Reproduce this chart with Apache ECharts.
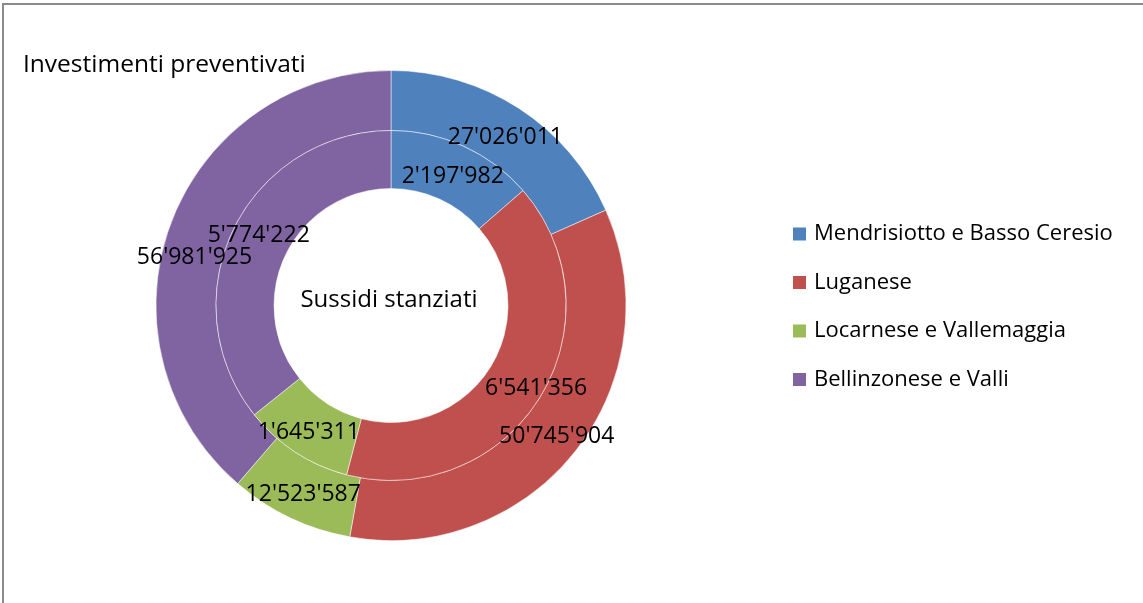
<!DOCTYPE html>
<html>
<head>
<meta charset="utf-8">
<script src="https://cdn.jsdelivr.net/npm/echarts@6/dist/echarts.min.js"></script>
<style>
  html, body { margin: 0; padding: 0; background: #ffffff; }
  .frame {
    position: absolute;
    left: 2px;
    top: 3px;
    width: 1141px;
    height: 600px;
    border-top: 2px solid #8a8a8a;
    border-left: 2px solid #8a8a8a;
  }
  #chart { position: absolute; left: 0; top: 0; width: 1143px; height: 603px; }
</style>
</head>
<body>
<div class="frame"></div>
<div id="chart"></div>
<script>
// regioni
const regions = ['Mendrisiotto e Basso Ceresio', 'Luganese', 'Locarnese e Vallemaggia', 'Bellinzonese e Valli'];
// anello esterno
const investimenti = [27026011, 50745904, 12523587, 56981925];
// anello interno
const sussidi = [2197982, 6541356, 1645311, 5774222];
const colors = ['#4f81bd', '#c0504d', '#9bbb59', '#8064a2'];

// piccoli spostamenti delle etichette (come in Excel), [dx, dy]
const shiftOuter = [[1, 6], [2, 3], [1.5, 1], [-1.5, 24]];
const shiftInner = [[0, 7], [18.5, 4.5], [-1, 2.5], [2, -5]];

const fmt = (v) => String(v).replace(/\B(?=(\d{3})+(?!\d))/g, "'");
const toData = (vals) => vals.map((v, i) => ({ name: regions[i], value: v }));

const labelStyle = {
  show: true,
  position: 'inside',
  color: '#000',
  fontFamily: 'Open Sans',
  fontSize: 23,
  formatter: (p) => fmt(p.value),
};

const chart = echarts.init(document.getElementById('chart'));
chart.setOption({
  animation: false,
  color: colors,
  title: {
    text: 'Investimenti preventivati',
    left: 18,
    top: 48,
    textStyle: { fontFamily: 'Open Sans', fontSize: 24.5, fontWeight: 'normal', color: '#000' },
  },
  graphic: [
    {
      type: 'text',
      x: 389,
      y: 300,
      style: {
        text: 'Sussidi stanziati',
        align: 'center',
        verticalAlign: 'middle',
        fontFamily: 'Open Sans',
        fontSize: 24,
        fill: '#000',
      },
    },
  ],
  legend: {
    orient: 'vertical',
    left: 786,
    top: 218,
    icon: 'rect',
    itemWidth: 15,
    itemHeight: 15,
    itemGap: 26.5,
    textStyle: { fontFamily: 'Open Sans', fontSize: 22, color: '#000', padding: [0, 0, 0, 2] },
    data: regions,
  },
  series: [
    {
      name: 'Investimenti preventivati',
      type: 'pie',
      center: [391, 305.5],
      radius: [175, 235],
      startAngle: 90,
      clockwise: true,
      itemStyle: { borderColor: '#ffffff', borderWidth: 0.5 },
      label: labelStyle,
      labelLine: { show: false },
      labelLayout: (p) => ({ dx: shiftOuter[p.dataIndex][0], dy: shiftOuter[p.dataIndex][1], hideOverlap: false }),
      emphasis: { disabled: true },
      data: toData(investimenti),
    },
    {
      name: 'Sussidi stanziati',
      type: 'pie',
      center: [391, 305.5],
      radius: [117, 175],
      startAngle: 90,
      clockwise: true,
      itemStyle: { borderColor: '#ffffff', borderWidth: 0.5 },
      label: labelStyle,
      labelLine: { show: false },
      labelLayout: (p) => ({ dx: shiftInner[p.dataIndex][0], dy: shiftInner[p.dataIndex][1], hideOverlap: false }),
      emphasis: { disabled: true },
      data: toData(sussidi),
    },
  ],
});
</script>
</body>
</html>
